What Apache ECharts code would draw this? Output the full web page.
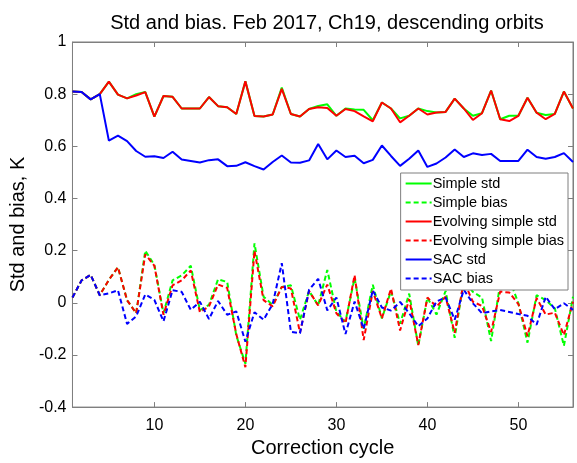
<!DOCTYPE html>
<html>
<head>
<meta charset="utf-8">
<title>Std and bias</title>
<script src="https://cdn.jsdelivr.net/npm/echarts@6/dist/echarts.min.js"></script>
<style>
  html, body { margin: 0; padding: 0; background: #fff; }
  #chart { width: 577px; height: 463px; }
</style>
</head>
<body>
<div id="chart"></div>
<script>
// correction cycles 1..56
var cycles = [];
for (var c = 1; c <= 56; c++) cycles.push(c);

var xTicks = [10, 20, 30, 40, 50];

// std (solid lines)
var simpleStd = [0.81, 0.808, 0.78, 0.80, 0.848, 0.798, 0.784, 0.80, 0.808, 0.714,
  0.793, 0.79, 0.745, 0.745, 0.745, 0.789, 0.754, 0.75, 0.724, 0.849,
  0.716, 0.714, 0.722, 0.825, 0.724, 0.714, 0.743, 0.755, 0.761, 0.717,
  0.745, 0.741, 0.74, 0.70, 0.768, 0.745, 0.707, 0.717, 0.745, 0.735,
  0.73, 0.732, 0.783, 0.745, 0.717, 0.727, 0.814, 0.704, 0.717, 0.717,
  0.786, 0.729, 0.72, 0.724, 0.81, 0.745];
var evolvingStd = [0.81, 0.808, 0.78, 0.80, 0.848, 0.798, 0.784, 0.795, 0.808, 0.714,
  0.793, 0.79, 0.745, 0.745, 0.745, 0.789, 0.754, 0.75, 0.724, 0.849,
  0.716, 0.714, 0.722, 0.82, 0.724, 0.714, 0.743, 0.75, 0.747, 0.717,
  0.743, 0.735, 0.715, 0.696, 0.768, 0.745, 0.692, 0.717, 0.745, 0.722,
  0.73, 0.732, 0.783, 0.745, 0.701, 0.727, 0.814, 0.704, 0.697, 0.717,
  0.786, 0.729, 0.704, 0.724, 0.81, 0.745];
var sacStd = [0.81, 0.808, 0.78, 0.80, 0.622, 0.641, 0.62, 0.582, 0.56, 0.562,
  0.555, 0.579, 0.549, 0.544, 0.538, 0.547, 0.55, 0.524, 0.525, 0.539,
  0.524, 0.511, 0.54, 0.565, 0.538, 0.537, 0.546, 0.609, 0.55, 0.584,
  0.559, 0.564, 0.535, 0.548, 0.603, 0.563, 0.525, 0.552, 0.584, 0.521,
  0.534, 0.557, 0.588, 0.559, 0.573, 0.567, 0.571, 0.544, 0.544, 0.544,
  0.587, 0.559, 0.552, 0.559, 0.574, 0.54];

// bias (dashed lines)
var simpleBias = [0.02, 0.086, 0.107, 0.029, 0.088, 0.136, 0.01, -0.04, 0.2, 0.145,
  -0.04, 0.086, 0.105, 0.142, -0.028, -0.008, 0.09, 0.08, -0.125, -0.234,
  0.228, 0.023, -0.008, 0.061, 0.067, -0.065, 0.045, -0.01, 0.126, -0.035,
  -0.072, 0.095, -0.1, 0.069, -0.06, 0.045, -0.08, 0.035, -0.165, 0.02,
  -0.045, 0.045, -0.134, 0.086, 0.042, 0.02, -0.147, 0.073, 0.092, -0.002,
  -0.153, 0.029, 0.01, -0.021, -0.165, 0.023];
var evolvingBias = [0.02, 0.086, 0.107, 0.029, 0.088, 0.136, 0.01, -0.04, 0.186, 0.142,
  -0.046, 0.067, 0.086, 0.124, -0.036, -0.014, 0.07, 0.057, -0.12, -0.247,
  0.199, 0.01, -0.014, 0.061, 0.055, -0.115, 0.045, -0.01, 0.07, -0.04,
  -0.078, 0.106, -0.143, 0.045, -0.06, 0.054, -0.106, 0.014, -0.162, 0.02,
  -0.015, 0.023, -0.115, 0.083, 0.004, -0.012, -0.112, 0.043, 0.039, -0.005,
  -0.128, 0.018, -0.045, -0.038, -0.124, 0.004];
var sacBias = [0.02, 0.086, 0.107, 0.029, 0.036, 0.048, -0.081, -0.052, 0.032, 0.011,
  -0.071, 0.048, 0.042, -0.027, 0.004, -0.062, 0.007, -0.046, -0.033, -0.149,
  -0.036, -0.065, -0.005, 0.152, -0.111, -0.117, 0.05, 0.092, -0.029, 0.02,
  -0.12, 0.005, -0.1, 0.048, -0.018, -0.03, 0.003, -0.04, -0.09, -0.06,
  0.005, 0.02, -0.065, 0.05, -0.002, -0.04, -0.033, -0.028, -0.035, -0.043,
  -0.05, -0.084, 0.023, -0.025, -0.002, -0.027];

var font = "'Liberation Sans', Arial, sans-serif";
var axisGray = '#7f7f7f';

function pairs(vals) {
  return cycles.map(function (x, i) { return [x, vals[i]]; });
}

function line(name, vals, color, dashed) {
  return {
    name: name,
    type: 'line',
    data: pairs(vals),
    symbol: 'none',
    showSymbol: false,
    smooth: false,
    lineStyle: { color: color, width: 2, type: dashed ? [5, 3] : 'solid' },
    itemStyle: { color: color },
    z: 2
  };
}

var chart = echarts.init(document.getElementById('chart'), null, { renderer: 'canvas' });

var option = {
  animation: false,
  backgroundColor: '#fff',
  textStyle: { fontFamily: font, color: '#000' },
  title: {
    text: 'Std and bias. Feb 2017, Ch19, descending orbits',
    left: 322,
    textAlign: 'center',
    top: 8,
    textStyle: { fontFamily: font, fontSize: 20, fontWeight: 'normal', color: '#000' }
  },
  grid: {
    left: 70, right: 4, top: 42, bottom: 46,
    show: true, borderColor: axisGray, borderWidth: 1, backgroundColor: '#fff'
  },
  legend: {
    orient: 'vertical',
    right: 9,
    top: 173,
    backgroundColor: '#fff',
    borderColor: axisGray,
    borderWidth: 1,
    borderRadius: 0,
    padding: [3, 4, 4, 4],
    itemWidth: 26,
    itemHeight: 14,
    itemGap: 4,
    itemStyle: { color: 'transparent', borderWidth: 0, opacity: 0 },
    textStyle: { fontFamily: font, fontSize: 14.5, color: '#000', padding: [0, 0, 0, -4] },
    data: ['Simple std', 'Simple bias', 'Evolving simple std', 'Evolving simple bias', 'SAC std', 'SAC bias']
  },
  xAxis: [{
    type: 'value',
    min: 1,
    max: 56,
    name: 'Correction cycle',
    nameLocation: 'middle',
    nameGap: 28,
    nameTextStyle: { fontFamily: font, fontSize: 20, color: '#000' },
    axisLine: { show: true, onZero: false, lineStyle: { color: axisGray } },
    axisTick: { show: true, inside: true, length: 5, customValues: xTicks, lineStyle: { color: axisGray } },
    axisLabel: { show: true, customValues: xTicks, fontFamily: font, fontSize: 16, color: '#000', margin: 10 },
    splitLine: { show: false }
  }, {
    type: 'value',
    position: 'top',
    min: 1,
    max: 56,
    axisLine: { show: true, onZero: false, lineStyle: { color: axisGray } },
    axisTick: { show: true, inside: true, length: 5, customValues: xTicks, lineStyle: { color: axisGray } },
    axisLabel: { show: false },
    splitLine: { show: false }
  }],
  yAxis: [{
    type: 'value',
    min: -0.4,
    max: 1,
    interval: 0.2,
    name: 'Std and bias, K',
    nameLocation: 'middle',
    nameGap: 30,
    nameTextStyle: { fontFamily: font, fontSize: 20, color: '#000' },
    axisLine: { show: true, onZero: false, lineStyle: { color: axisGray } },
    axisTick: { show: true, inside: true, length: 5, lineStyle: { color: axisGray } },
    axisLabel: {
      fontFamily: font, fontSize: 16, color: '#000', margin: 6,
      formatter: function (v) { return String(Math.round(v * 10) / 10); }
    },
    splitLine: { show: false }
  }, {
    type: 'value',
    position: 'right',
    min: -0.4,
    max: 1,
    interval: 0.2,
    axisLine: { show: true, onZero: false, lineStyle: { color: axisGray } },
    axisTick: { show: true, inside: true, length: 5, lineStyle: { color: axisGray } },
    axisLabel: { show: false },
    splitLine: { show: false }
  }],
  series: [
    line('Simple std', simpleStd, '#00ff00', false),
    line('Simple bias', simpleBias, '#00ff00', true),
    line('Evolving simple std', evolvingStd, '#ff0000', false),
    line('Evolving simple bias', evolvingBias, '#ff0000', true),
    line('SAC std', sacStd, '#0000ff', false),
    line('SAC bias', sacBias, '#0000ff', true)
  ]
};

chart.setOption(option);
</script>
</body>
</html>
